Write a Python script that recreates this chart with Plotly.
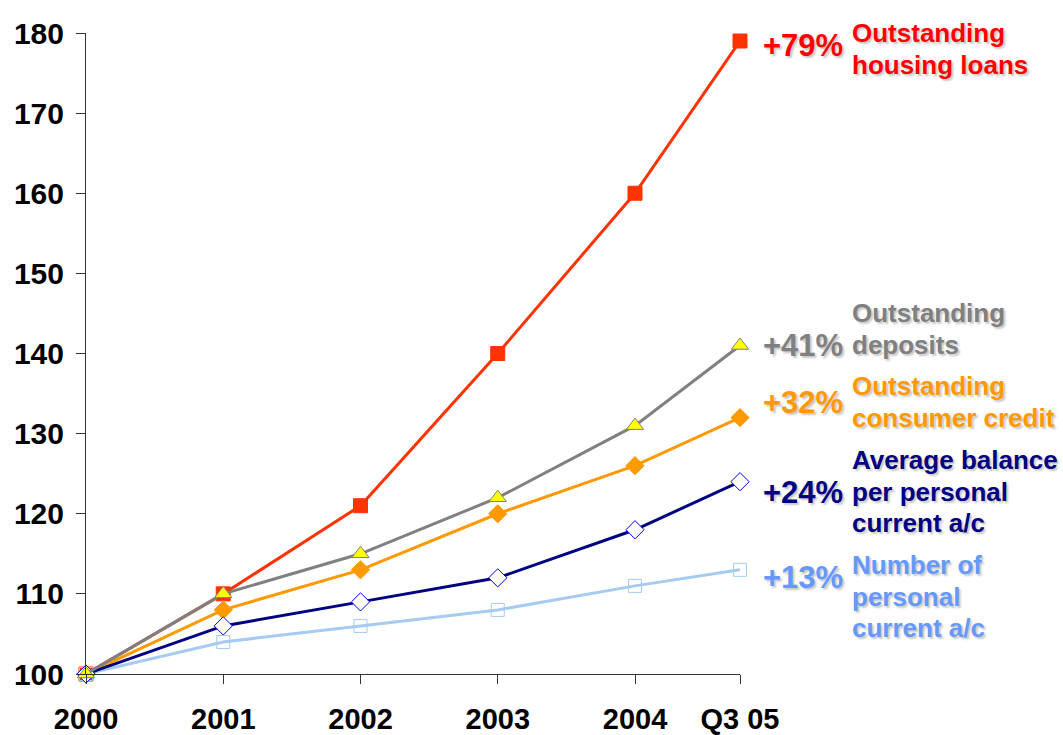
import plotly.graph_objects as go

# Index, 2000 = 100
periods = ["2000", "2001", "2002", "2003", "2004", "Q3 05"]
period_pos = [0, 1, 2, 3, 4, 4.765]

housing_loans = [100, 110, 121, 140, 160, 179]
deposits = [100, 110, 115, 122, 131, 141]
consumer_credit = [100, 108, 113, 120, 126, 132]
avg_balance = [100, 106, 109, 112, 118, 124]
num_accounts = [100, 104, 106, 108, 111, 113]

growth_labels = ["+79%", "+41%", "+32%", "+24%", "+13%"]
series_names = [
    ["Outstanding", "housing loans"],
    ["Outstanding", "deposits"],
    ["Outstanding", "consumer credit"],
    ["Average balance", "per personal", "current a/c"],
    ["Number of", "personal", "current a/c"],
]

FONT = "Arial, 'Liberation Sans', sans-serif"

fig = go.Figure()

def add_line(y, line_color, symbol, msize, mfill, mline, name):
    fig.add_trace(go.Scatter(
        x=period_pos, y=y, mode="lines+markers", name=name,
        line=dict(color=line_color, width=3),
        marker=dict(symbol=symbol, size=msize, color=mfill,
                    line=dict(color=mline, width=1)),
        cliponaxis=False, showlegend=False,
    ))

add_line(housing_loans, "#FF3300", "square", 14, "#FF3300", "#FF3300", "Housing loans")
add_line(num_accounts, "#A6CAF0", "square-open", 13, "#A6CAF0", "#A6CAF0", "Number of accounts")
add_line(consumer_credit, "#FF9900", "diamond", 14, "#FF9900", "#FF9900", "Consumer credit")
add_line(avg_balance, "#000080", "diamond", 14, "white", "#0000FF", "Average balance")
add_line(deposits, "#808080", "triangle-up", 15, "#FFFF00", "#808080", "Deposits")

# Growth labels on the right, one annotation per text line
label_colors = ["#FF0000", "#808080", "#FF9900", "#000080", "#6699FF"]
pct_y = [45, 345, 402, 492, 577]
first_line_y = [33, 313, 386, 460, 565]
line_step = 31.5
shadow = "2px 2px 2px rgba(0,0,0,0.22)"

def to_px(px, py):
    return (px - 86) / 654, (674 - py) / 641

for pct, lines, col, py, fy in zip(growth_labels, series_names, label_colors, pct_y, first_line_y):
    ax, ay = to_px(845, py)
    fig.add_annotation(
        xref="paper", yref="paper", x=ax, y=ay,
        text=pct, showarrow=False, xanchor="right", yanchor="middle",
        font=dict(family=FONT, size=31, color=col, weight="bold", shadow=shadow),
    )
    for i, line in enumerate(lines):
        lx, ly = to_px(850, fy + i * line_step)
        fig.add_annotation(
            xref="paper", yref="paper", x=lx, y=ly,
            text=line, showarrow=False, xanchor="left", yanchor="middle", align="left",
            font=dict(family=FONT, size=26, color=col, weight="bold", shadow=shadow),
        )

fig.update_layout(
    width=1063, height=735,
    margin=dict(l=86, r=323, t=33, b=61),
    plot_bgcolor="white", paper_bgcolor="white",
    xaxis=dict(
        range=[0, 4.765], tickmode="array", tickvals=period_pos, ticktext=periods,
        showgrid=False, zeroline=False, showline=True, linecolor="#333333", linewidth=1,
        ticks="outside", ticklen=9, tickcolor="#333333", ticklabelstandoff=10,
        automargin=False,
        tickfont=dict(family=FONT, size=29, color="black", weight="bold"),
    ),
    yaxis=dict(
        range=[100, 180], tickmode="array", tickvals=list(range(100, 181, 10)),
        showgrid=False, zeroline=False, showline=True, linecolor="#333333", linewidth=1,
        ticks="outside", ticklen=9, tickcolor="#333333", ticklabelstandoff=6,
        automargin=False,
        tickfont=dict(family=FONT, size=30, color="black", weight="bold"),
    ),
)

fig.write_html("out.html")
